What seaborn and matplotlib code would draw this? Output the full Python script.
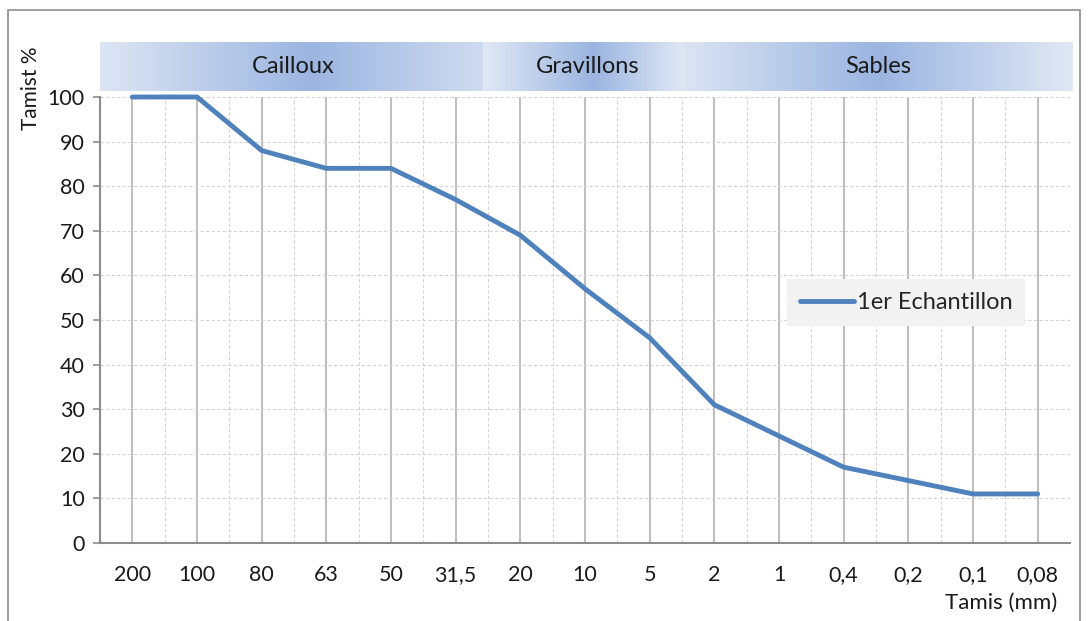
import numpy as np
import pandas as pd
import seaborn as sns
import matplotlib.pyplot as plt
from matplotlib.patches import Rectangle
from matplotlib.ticker import MultipleLocator, FixedLocator

# Data
tamis_labels = ["200", "100", "80", "63", "50", "31,5", "20", "10", "5", "2", "1", "0,4", "0,2", "0,1", "0,08"]
tamisat = [100, 100, 88, 84, 84, 77, 69, 57, 46, 31, 24, 17, 14, 11, 11]
serie_name = "1er Echantillon"
zones = ["Cailloux", "Gravillons", "Sables"]

df = pd.DataFrame({"pos": np.arange(len(tamis_labels)), "val": tamisat, "serie": serie_name})

sns.set_theme(style="white")
plt.rcParams['font.family'] = ['Lato', 'DejaVu Sans']

W, H = 1088, 621
fig = plt.figure(figsize=(W / 100, H / 100), dpi=100)

def fx(px):
    return px / W

def fy(py):
    return 1 - py / H

# outer frame
fig.patches.append(Rectangle((fx(8), -0.01), fx(1080) - fx(8), fy(10) + 0.01,
                             transform=fig.transFigure, fill=False,
                             edgecolor="#8c8c8c", linewidth=1.2))

ax = fig.add_axes([fx(100), fy(543), fx(1070) - fx(100), fy(97) - fy(543)])
sns.lineplot(data=df, x="pos", y="val", hue="serie", palette=["#4f81bd"],
             linewidth=3.5, ax=ax, clip_on=False, solid_capstyle="round")

ax.set_xlim(-0.5, len(tamis_labels) - 0.5)
ax.set_ylim(0, 100)
ax.set_xticks(np.arange(len(tamis_labels)))
ax.set_xticklabels(tamis_labels)
ax.xaxis.set_minor_locator(FixedLocator(np.arange(-0.5, len(tamis_labels), 1.0)))
ax.yaxis.set_major_locator(MultipleLocator(10))

ax.grid(which="major", axis="x", color="#bfbfbf", linewidth=1.5, linestyle="-")
ax.grid(which="minor", axis="x", color="#d4d4d4", linewidth=0.8, linestyle=(0, (3, 2)))
ax.grid(which="major", axis="y", color="#d4d4d4", linewidth=0.8, linestyle=(0, (3, 2)))
ax.set_axisbelow(True)

for s in ["top", "right"]:
    ax.spines[s].set_visible(False)
for s in ["left", "bottom"]:
    ax.spines[s].set_color("#8c8c8c")
    ax.spines[s].set_linewidth(1.5)

ax.tick_params(axis="x", which="major", length=0, pad=16, labelsize=15.5, labelcolor="#1a1a1a")
ax.tick_params(axis="x", which="minor", direction="in", length=4, width=1.2, color="#8c8c8c")
ax.tick_params(axis="y", which="major", direction="out", length=5, width=1.2, color="#8c8c8c",
               pad=6, labelsize=15.5, labelcolor="#1a1a1a", left=True)
ax.set_xlabel("")
ax.set_ylabel("")

leg = ax.legend(loc="center", bbox_to_anchor=(0.831, 0.539), frameon=True, fancybox=False,
                fontsize=17, handlelength=2.3, handletextpad=0.1, borderpad=0.55,
                borderaxespad=0)
leg.get_frame().set_facecolor("#f2f2f2")
leg.get_frame().set_edgecolor("none")
leg.get_frame().set_alpha(1)
for line in leg.get_lines():
    line.set_linewidth(3.5)

fig.text(fx(31), fy(88), "Tamist %", rotation=90, ha="center", va="center", fontsize=15, color="#1a1a1a")
fig.text(fx(1057), fy(603), "Tamis (mm)", ha="right", va="center", fontsize=16, color="#1a1a1a")

# gradient band with the three zones
band = fig.add_axes([fx(100), fy(91), fx(1073) - fx(100), fy(42) - fy(91)])
light = np.array([0.88, 0.91, 0.96])
dark = np.array([0.61, 0.71, 0.88])
segments = [(100, 483, 293, [0, 0.55, 1], [0.05, 1, 0.25]),
            (483, 685, 588, [0, 0.55, 1], [0, 1, 0]),
            (685, 1073, 878, [0, 0.5, 1], [0.1, 1, 0])]
for (x0, x1, xt, stops, levels), name in zip(segments, zones):
    t = np.linspace(0, 1, 300)
    k = np.interp(t, stops, levels)
    img = light[None, :] * (1 - k[:, None]) + dark[None, :] * k[:, None]
    band.imshow(img[None, :, :], extent=[x0, x1, 0, 1], aspect="auto")
    band.text(xt, 0.5, name, ha="center", va="center", fontsize=17, color="#1a1a1a")
band.set_xlim(100, 1073)
band.set_ylim(0, 1)
band.axis("off")

fig.savefig("out.png", dpi=100)
